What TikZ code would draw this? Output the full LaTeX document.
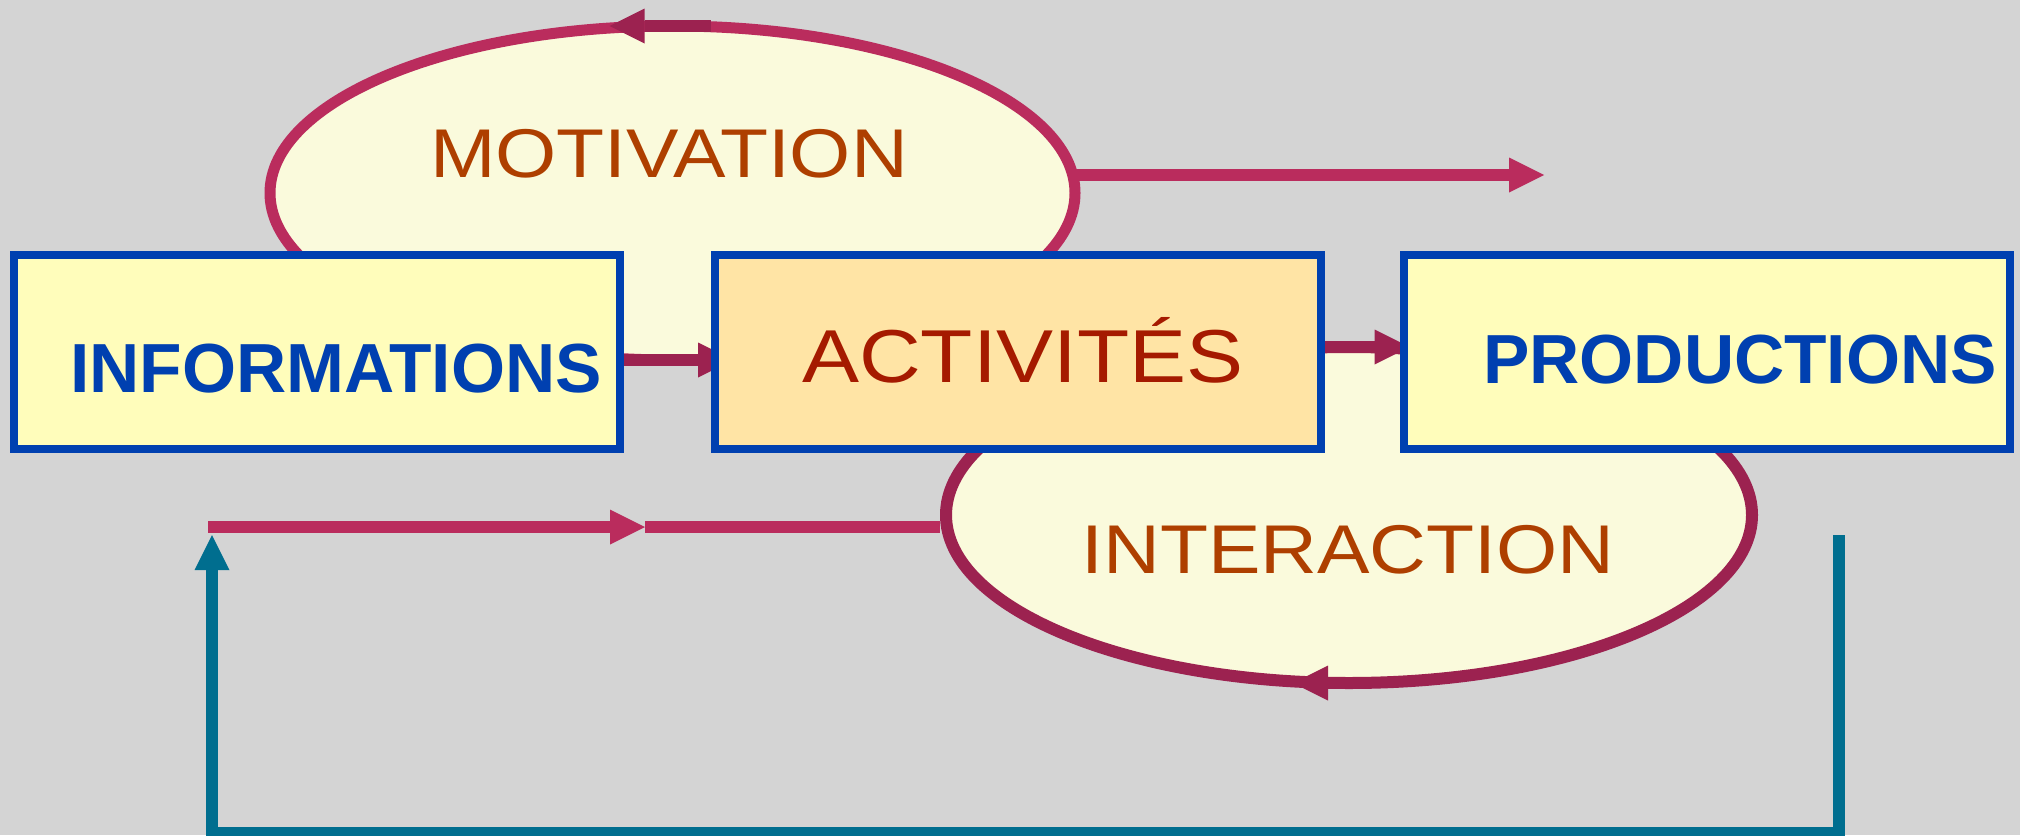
\documentclass[tikz,border=0pt]{standalone}
\usepackage{fontspec}
\setmainfont{Liberation Sans}
\newfontfamily\widefont{Liberation Sans}[FakeStretch=1.14]
\usetikzlibrary{arrows.meta,shapes.geometric}

\definecolor{bggrey}{HTML}{D4D4D4}
\definecolor{boxblue}{HTML}{0040B0}
\definecolor{boxyellow}{HTML}{FFFDBB}
\definecolor{boxorange}{HTML}{FFE4A5}
\definecolor{bubblefill}{HTML}{FAFADC}
\definecolor{linklight}{HTML}{BA2C5D}
\definecolor{linkdark}{HTML}{9C2250}
\definecolor{tealline}{HTML}{006E8F}
\definecolor{labelbrown}{HTML}{AE3F00}
\definecolor{actred}{HTML}{A51A00}

\pgfdeclarelayer{back}
\pgfdeclarelayer{links}
\pgfsetlayers{back,links,main}

\tikzset{
  box/.style={rectangle, draw=boxblue, line width=8pt, minimum width=606pt,
    minimum height=194pt, inner sep=0pt, outer sep=0pt},
  bubble/.style={ellipse, fill=bubblefill, inner sep=0pt, outer sep=0pt},
  head/.style={-{Triangle[length=35pt,width=35pt,line width=0pt]}},
  darklink/.style={draw=linkdark, line width=12pt},
  lightlink/.style={draw=linklight, line width=12pt},
  feedback/.style={draw=tealline, line width=12pt},
  bubbletext/.style={font=\widefont\fontsize{69}{80}\selectfont, text=labelbrown,
    anchor=base, inner sep=0pt},
  acttext/.style={font=\widefont\fontsize{75}{86}\selectfont, text=actred,
    anchor=base, inner sep=0pt},
  boxtext/.style={font=\bfseries\fontsize{69.5}{80}\selectfont, text=boxblue,
    anchor=base, inner sep=0pt},
}

\begin{document}
\begin{tikzpicture}[x=1pt,y=-1pt]
  \useasboundingbox (0,0) rectangle (2020,835);

  % background and the two loops
  \begin{pgfonlayer}{back}
    \fill[bggrey] (0,0) rectangle (2020,835);
    \node[bubble, draw=linklight, line width=11pt, minimum width=805pt, minimum height=334pt] (mot) at (672.5,193) {};
    \node[bubble, draw=linkdark, line width=12pt, minimum width=806pt, minimum height=336pt] (inter) at (1349,515) {};
  \end{pgfonlayer}

  % the three stages
  \node[box, fill=boxyellow] (info) at (317,352) {};
  \node[box, fill=boxorange] (act) at (1018,352) {};
  \node[box, fill=boxyellow] (prod) at (1706.5,352) {};

  \node[boxtext] (infolbl) at (336,392) {INFORMATIONS};
  \node[acttext] (actlbl) at (1023,382) {ACTIVITÉS};
  \node[boxtext] (prodlbl) at (1740,383) {PRODUCTIONS};
  \node[bubbletext] (motlbl) at (669,177) {MOTIVATION};
  \node[bubbletext] (interlbl) at (1348,573) {INTERACTION};

  % free ends
  \coordinate (motout) at (1544,175);
  \coordinate (botend) at (208,527);
  \coordinate (botmid) at (645,527);
  \coordinate (fbstart) at (1839,535);
  \coordinate (fbcornerR) at (1839,833);
  \coordinate (fbcornerL) at (212,833);
  \coordinate (fbend) at (212,535);

  \begin{pgfonlayer}{links}
    % flow between the stages
    \draw[darklink, head] ([yshift=-8pt]info.east) -- ([xshift=18pt,yshift=-8pt]act.west);
    \draw[darklink, head] ([yshift=5pt]act.east) -- ([xshift=6pt,yshift=5pt]prod.west);
    % direction marks on the loops
    \draw[darklink, head] ([xshift=38pt]mot.north) -- ([xshift=-63pt]mot.north);
    \draw[darklink, head] ([xshift=8pt]inter.south) -- ([xshift=-56pt]inter.south);
    % outgoing motivation
    \draw[lightlink, head] ([yshift=18pt]mot.east) -- (motout);
    % incoming line to the interaction loop
    \draw[lightlink, head] (botend) -- (botmid);
    \draw[lightlink] (botmid) -- ([xshift=-6pt,yshift=-12pt]inter.west);
    % feedback from productions to informations
    \draw[feedback, head] (fbstart) -- (fbcornerR) -- (fbcornerL) -- (fbend);
  \end{pgfonlayer}
\end{tikzpicture}
\end{document}
